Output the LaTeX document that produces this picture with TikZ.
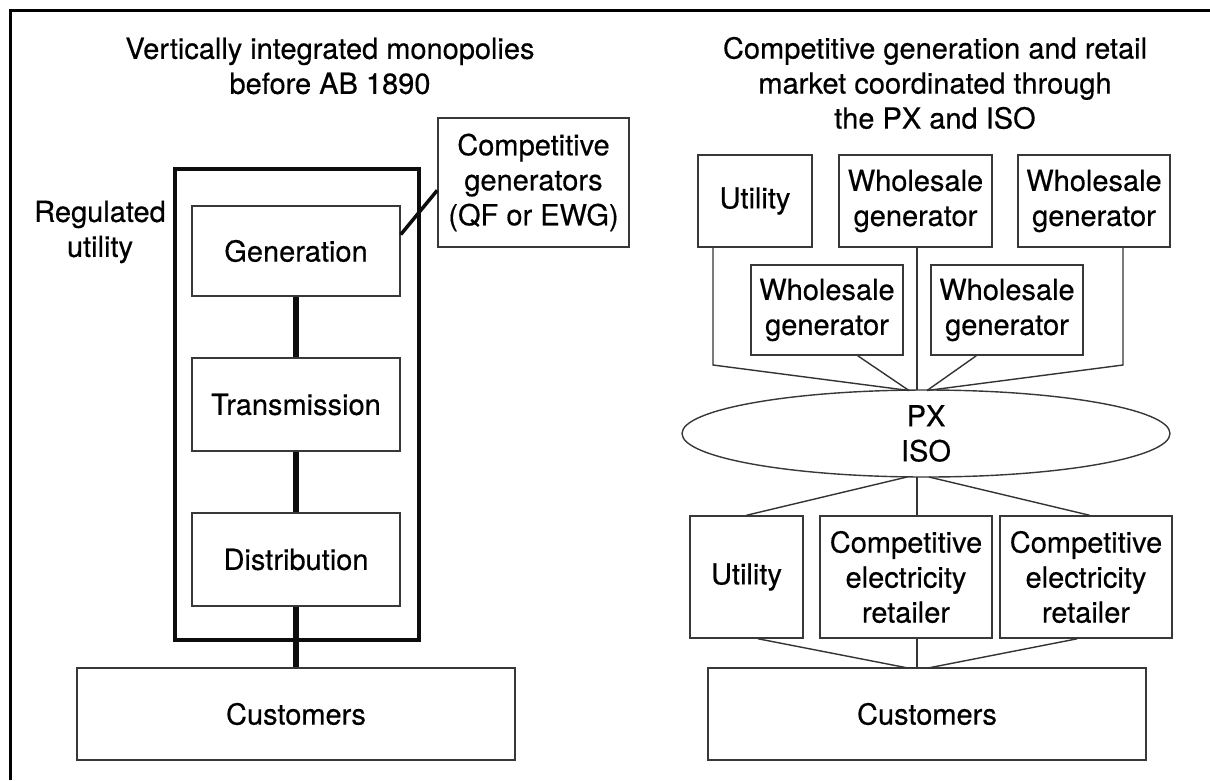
\documentclass[tikz,border=0pt]{standalone}
\usepackage{fontspec}
\setmainfont{TeX Gyre Heros}[FakeBold=0.4]
\usetikzlibrary{shapes.geometric,calc}
\begin{document}
\begin{tikzpicture}[x=1pt,y=-1pt,
  every node/.style={font=\fontsize{29}{35}\selectfont, text=black},
  box/.style={draw=black!78, line width=1.5pt, inner sep=0pt, align=center, rectangle},
  plain/.style={align=center, inner sep=0pt},
  link/.style={draw=black!80, line width=1.4pt},
  stem/.style={draw=black!95, line width=6.5pt},
  thickframe/.style={draw=black!95, line width=4.5pt, inner sep=0pt, rectangle}]
\useasboundingbox (0,0) rectangle (1210,780);
\fill[white] (0,0) rectangle (1210,780);
\draw[line width=3pt] (10,780) -- (10,10) -- (1210,10);

% ---------- left panel ----------
\node[plain] (ltitle) at (330,66) {Vertically integrated monopolies\\before AB 1890};
\node[plain] (reglab) at (100,232) {Regulated\\utility};
\node[thickframe, minimum width=244pt, minimum height=471pt] (regframe) at (297,404.5) {};
\node[box, minimum width=208pt, minimum height=90pt] (gen) at (296,251) {Generation};
\node[box, minimum width=208pt, minimum height=93pt] (trans) at (296,404.5) {Transmission};
\node[box, minimum width=208pt, minimum height=93pt] (dist) at (296,559.5) {Distribution};
\node[box, minimum width=438pt, minimum height=92pt] (custL) at (296,714) {Customers};
\node[box, minimum width=191pt, minimum height=129pt] (comp) at (533.5,182.5) {Competitive\\generators\\(QF or EWG)};

\draw[stem] (gen.south) -- (trans.north);
\draw[stem] (trans.south) -- (dist.north);
\draw[stem] (dist.south) -- (custL.north);
\draw[draw=black!95, line width=3.5pt] ($(gen.north east)!0.32!(gen.south east)$) -- ($(comp.north west)!0.56!(comp.south west)$);

% ---------- right panel ----------
\node[plain] (rtitle) at (935,83) {Competitive generation and retail\\market coordinated through\\the PX and ISO};
\node[box, minimum width=114pt, minimum height=92pt] (u1) at (755,201) {Utility};
\node[box, minimum width=153pt, minimum height=92pt] (wg1) at (915.5,201) {Wholesale\\generator};
\node[box, minimum width=152pt, minimum height=92pt] (wg2) at (1094,201) {Wholesale\\generator};
\node[box, minimum width=152pt, minimum height=90pt] (wg3) at (827,310) {Wholesale\\generator};
\node[box, minimum width=152pt, minimum height=90pt] (wg4) at (1007,310) {Wholesale\\generator};
\node[draw=black!78, line width=1.4pt, ellipse, inner sep=0pt, minimum width=488pt, minimum height=87pt, align=center] (px) at (926,433.5) {PX\\ISO};
\node[box, minimum width=113pt, minimum height=122pt] (u2) at (746.5,577) {Utility};
\node[box, minimum width=172pt, minimum height=122pt] (cer1) at (906,577) {Competitive\\electricity\\retailer};
\node[box, minimum width=172pt, minimum height=122pt] (cer2) at (1086,577) {Competitive\\electricity\\retailer};
\node[box, minimum width=438pt, minimum height=92pt] (custR) at (927,714) {Customers};

\coordinate (jU) at (713,365);
\coordinate (jW) at (1123,365);
\coordinate (tL) at (909,390.5);
\coordinate (tC) at (917,390);
\coordinate (tR) at (927,390.5);
\coordinate (bL) at (907,477);
\coordinate (bC) at (917,477);
\coordinate (bR) at (929,477);
\coordinate (cL) at (908,668);
\coordinate (cC) at (917,668);
\coordinate (cR) at (928,668);

\draw[link] (u1.south -| jU) -- (jU) -- (tL);
\draw[link] (wg1.south -| tC) -- (tC);
\draw[link] (wg2.south -| jW) -- (jW) -- (tR);
\draw[link] ($(wg3.south west)!0.70!(wg3.south east)$) -- (tL);
\draw[link] ($(wg4.south west)!0.30!(wg4.south east)$) -- (tR);

\draw[link] (bL) -- (u2.north);
\draw[link] (bC) -- (cer1.north -| bC);
\draw[link] (bR) -- ($(cer2.north west)!0.52!(cer2.north east)$);

\draw[link] ($(u2.south west)!0.60!(u2.south east)$) -- (cL);
\draw[link] (cer1.south -| cC) -- (cC);
\draw[link] ($(cer2.south west)!0.45!(cer2.south east)$) -- (cR);
\end{tikzpicture}
\end{document}
